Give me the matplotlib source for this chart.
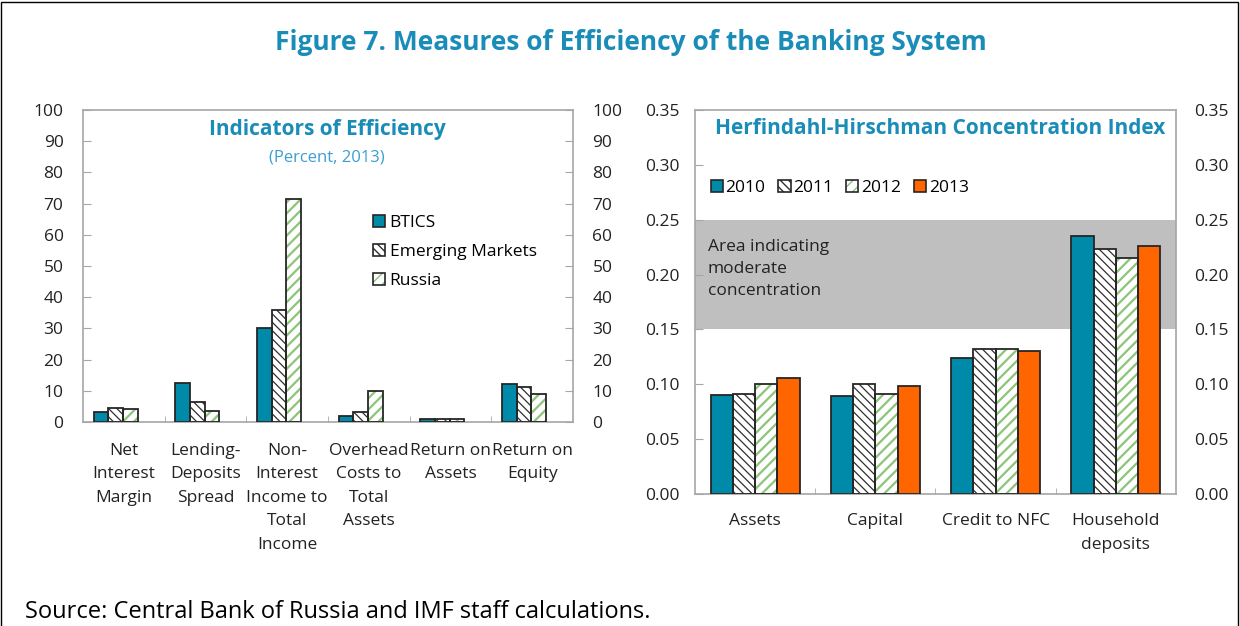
import numpy as np
import matplotlib.pyplot as plt
from matplotlib.patches import Patch, Rectangle

plt.rcParams['font.family'] = ['Open Sans', 'DejaVu Sans']

# Datos: indicadores de eficiencia (porcentaje, 2013)
indicators = ['Net\nInterest\nMargin', 'Lending-\nDeposits\nSpread',
              'Non-\nInterest\nIncome to\nTotal\nIncome',
              'Overhead\nCosts to\nTotal\nAssets', 'Return on\nAssets',
              'Return on\nEquity']
btics = [3.2, 12.5, 30.0, 1.9, 1.0, 12.1]
emerging = [4.6, 6.3, 35.8, 3.2, 1.0, 11.2]
russia = [4.1, 3.6, 71.4, 9.8, 1.0, 9.0]

# Datos: indice de concentracion Herfindahl-Hirschman
hhi_cats = ['Assets', 'Capital', 'Credit to NFC', 'Household\ndeposits']
hhi_2010 = [0.090, 0.089, 0.124, 0.235]
hhi_2011 = [0.091, 0.100, 0.132, 0.223]
hhi_2012 = [0.100, 0.091, 0.132, 0.215]
hhi_2013 = [0.106, 0.098, 0.130, 0.226]

teal = '#008aaa'
orange = '#ff6600'
green = '#8cc478'
title_blue = '#1a8cb8'
frame = '#a6a6a6'
edge = '#262626'


def draw_bar(ax, x, h, w, style):
    # estilo: color solido, 'black' rayado negro, 'green' rayado verde
    if style == 'black':
        with plt.rc_context({'hatch.linewidth': 0.9}):
            ax.bar(x, h, w, color='white', edgecolor='#303030', hatch='\\\\\\\\',
                   linewidth=0, zorder=2)
    elif style == 'green':
        with plt.rc_context({'hatch.linewidth': 1.6}):
            ax.bar(x, h, w, color='white', edgecolor=green, hatch='///',
                   linewidth=0, zorder=2)
    else:
        ax.bar(x, h, w, color=style, linewidth=0, zorder=2)
    ax.bar(x, h, w, facecolor='none', edgecolor=edge, linewidth=1.3, zorder=3)


def legend_handle(style):
    if style == 'black':
        with plt.rc_context({'hatch.linewidth': 0.9}):
            inner = Patch(facecolor='white', edgecolor='#303030', hatch='\\\\\\\\', linewidth=0)
    elif style == 'green':
        with plt.rc_context({'hatch.linewidth': 1.6}):
            inner = Patch(facecolor='white', edgecolor=green, hatch='///', linewidth=0)
    else:
        inner = Patch(facecolor=style, linewidth=0)
    return (inner, Patch(facecolor='none', edgecolor=edge, linewidth=1.2))


def style_axes(ax):
    for s in ax.spines.values():
        s.set_color(frame)
        s.set_linewidth(1.2)
    ax.tick_params(axis='y', direction='in', length=6, color=frame, labelsize=12.5,
                   labelcolor='#222222')
    ax.tick_params(axis='x', which='major', length=0, labelsize=12.5, labelcolor='#222222')
    ax.tick_params(axis='x', which='minor', direction='in', length=4, color=frame)


fig = plt.figure(figsize=(12.4, 6.26), dpi=100)

# Panel izquierdo
ax1 = fig.add_axes([83 / 1240, 1 - 422 / 626, 490 / 1240, 312 / 626])
x = np.arange(len(indicators))
w = 0.18
shift = -0.1
for vals, off, st in [(btics, -w, teal), (emerging, 0, 'black'), (russia, w, 'green')]:
    draw_bar(ax1, x + shift + off, vals, w, st)
ax1.set_xlim(-0.5, len(indicators) - 0.5)
ax1.set_ylim(0, 100)
ax1.set_yticks(np.arange(0, 101, 10))
ax1.set_xticks(x)
ax1.set_xticklabels(indicators, linespacing=1.62, va='top')
ax1.set_xticks(np.arange(0.5, len(indicators) - 1, 1), minor=True)
style_axes(ax1)
ax1.tick_params(axis='y', right=True, labelright=True, pad=14)
ax1.tick_params(axis='x', pad=15)
ax1.legend([legend_handle(teal), legend_handle('black'), legend_handle('green')],
           ['BTICS', 'Emerging Markets', 'Russia'],
           loc='center left', bbox_to_anchor=(0.56, 0.545), frameon=False,
           fontsize=12.5, handlelength=0.7, handleheight=0.7, handletextpad=0.25,
           labelspacing=0.75)

# Panel derecho
ax2 = fig.add_axes([695 / 1240, 1 - 494 / 626, 481 / 1240, 384 / 626])
xh = np.arange(len(hhi_cats))
wh = 0.185
ax2.axhspan(0.15, 0.25, color='#bfbfbf', zorder=0, linewidth=0)
for i, (vals, st) in enumerate([(hhi_2010, teal), (hhi_2011, 'black'),
                                 (hhi_2012, 'green'), (hhi_2013, orange)]):
    draw_bar(ax2, xh + (i - 1.5) * wh, vals, wh, st)
ax2.set_xlim(-0.5, len(hhi_cats) - 0.5)
ax2.set_ylim(0, 0.35)
yt = np.arange(0, 0.351, 0.05)
ax2.set_yticks(yt)
ax2.set_yticklabels(['%.2f' % v for v in yt])
ax2.set_xticks(xh)
ax2.set_xticklabels(hhi_cats, linespacing=1.62, va='top')
ax2.set_xticks(np.arange(0.5, len(hhi_cats) - 1, 1), minor=True)
style_axes(ax2)
ax2.tick_params(axis='y', right=True, pad=11)
ax2.tick_params(axis='x', pad=14)
ax2r = ax2.twinx()
ax2r.set_ylim(ax2.get_ylim())
ax2r.set_yticks(yt)
ax2r.set_yticklabels(['%.2f' % v for v in yt])
ax2r.tick_params(axis='y', length=0, pad=13, labelsize=12.5, labelcolor='#222222')
for s in ax2r.spines.values():
    s.set_visible(False)
ax2.text(0.027, 0.665, 'Area indicating\nmoderate\nconcentration', transform=ax2.transAxes,
         ha='left', va='top', fontsize=12.5, color='#222222', linespacing=1.5)
ax2.legend([legend_handle(teal), legend_handle('black'), legend_handle('green'),
            legend_handle(orange)], ['2010', '2011', '2012', '2013'],
           loc='center left', bbox_to_anchor=(0.0, 0.797), ncol=4, frameon=False,
           fontsize=12.5, handlelength=0.7, handleheight=0.7, handletextpad=0.15,
           columnspacing=0.75)

# Titulos y textos
fig.text(631 / 1240, 1 - 42 / 626, 'Figure 7. Measures of Efficiency of the Banking System',
         ha='center', va='center', fontsize=19, fontweight='bold', color=title_blue)
fig.text(327 / 1240, 1 - 130 / 626, 'Indicators of Efficiency', ha='center', va='center',
         fontsize=15, fontweight='bold', color=title_blue)
fig.text(327 / 1240, 1 - 157 / 626, '(Percent, 2013)', ha='center', va='center',
         fontsize=12, color='#3a9fd0')
fig.text(940 / 1240, 1 - 128 / 626, 'Herfindahl-Hirschman Concentration Index',
         ha='center', va='center', fontsize=15, fontweight='bold', color=title_blue)
fig.text(25 / 1240, 1 - 612 / 626, 'Source: Central Bank of Russia and IMF staff calculations.',
         ha='left', va='center', fontsize=17, color='black')

fig.patches.append(Rectangle((0.001, -0.05), 0.997, 1.047, transform=fig.transFigure,
                             fill=False, edgecolor='black', linewidth=1))

fig.savefig('out.png', dpi=100)
